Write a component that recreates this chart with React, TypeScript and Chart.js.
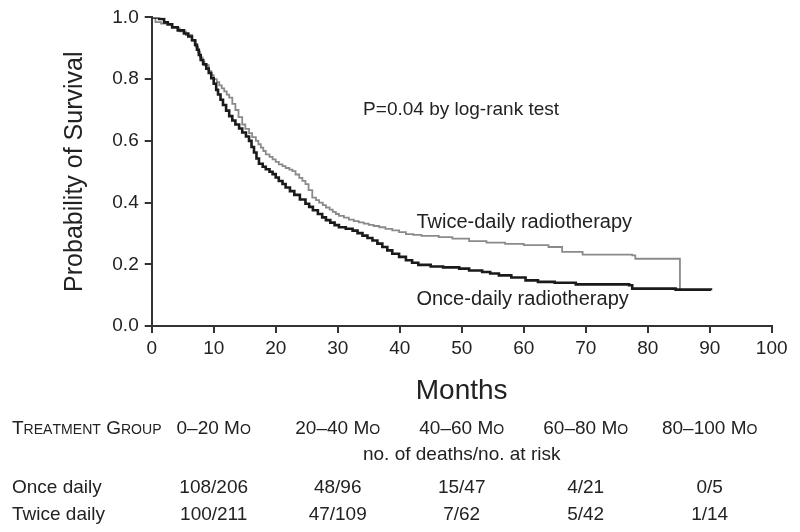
import React, { useEffect, useRef } from 'react';
import { Chart, registerables } from 'chart.js';

Chart.register(...registerables);

const FONT = "'Liberation Sans', Arial, Helvetica, sans-serif";
const TEXT = '#222222';

// ---- data ----
const xTickStep = 10;
const yTickStep = 0.2;

const onceMonths = [0, 1.2, 2, 2.6, 3.3, 4.2, 5.2, 5.9, 6.5, 7, 7.3, 7.6, 7.9, 8.3, 8.8, 9.2, 9.6, 10, 10.4, 10.7, 11.1, 11.5, 12, 12.5, 13, 13.5, 14.1, 14.6, 15.2, 15.7, 16.1, 16.5, 16.9, 17.3, 17.9, 18.4, 19, 19.5, 20, 20.5, 21.1, 21.6, 22.3, 23, 23.9, 24.8, 25.4, 26, 26.8, 27.5, 28.1, 28.8, 29.5, 30.2, 31.3, 32.4, 33.2, 34, 34.8, 35.6, 36.4, 37.2, 38, 38.8, 39.9, 41, 42, 43, 45, 47, 49.6, 51.2, 53.3, 54.6, 56, 58, 60.3, 62.3, 65, 68.4, 77, 77.5, 84.5, 90.2];
const onceSurvival = [1.0, 0.995, 0.984, 0.978, 0.968, 0.958, 0.948, 0.938, 0.926, 0.911, 0.895, 0.878, 0.862, 0.848, 0.834, 0.82, 0.803, 0.785, 0.765, 0.75, 0.733, 0.716, 0.698, 0.68, 0.666, 0.653, 0.64, 0.627, 0.614, 0.6, 0.58, 0.562, 0.543, 0.526, 0.516, 0.508, 0.5, 0.492, 0.481, 0.47, 0.46, 0.449, 0.437, 0.425, 0.41, 0.396, 0.386, 0.375, 0.363, 0.352, 0.343, 0.335, 0.327, 0.32, 0.315, 0.309, 0.301, 0.293, 0.285, 0.277, 0.267, 0.256, 0.245, 0.234, 0.224, 0.213, 0.205, 0.198, 0.193, 0.19, 0.186, 0.18, 0.175, 0.17, 0.164, 0.157, 0.148, 0.143, 0.14, 0.135, 0.132, 0.121, 0.118, 0.116];

const twiceMonths = [0, 0.6, 1.5, 2.5, 3.3, 4.5, 5.5, 6.5, 7.1, 7.5, 7.8, 8.2, 8.5, 9.2, 9.6, 10, 10.5, 10.9, 11.3, 11.7, 12.1, 12.5, 13, 13.5, 14, 14.6, 15.1, 15.7, 16.2, 16.8, 17.2, 17.6, 18, 18.4, 19, 19.5, 20, 20.5, 21.1, 21.6, 22.2, 22.7, 23.2, 23.8, 24.3, 24.8, 25.3, 25.9, 26.5, 27, 27.6, 28.1, 28.7, 29.2, 29.7, 30.2, 31, 31.8, 32.6, 33.4, 34.2, 35, 35.8, 36.7, 37.7, 38.8, 39.9, 41, 42.2, 43.5, 46.3, 48.5, 51.2, 54, 57, 60, 64, 66.2, 69.5, 77.5, 78, 85, 85.2, 90.2];
const twiceSurvival = [1.0, 0.985, 0.98, 0.975, 0.965, 0.955, 0.943, 0.925, 0.905, 0.888, 0.87, 0.857, 0.845, 0.826, 0.813, 0.8, 0.79, 0.78, 0.77, 0.76, 0.75, 0.74, 0.72, 0.7, 0.677, 0.653, 0.639, 0.625, 0.612, 0.6, 0.589, 0.578, 0.567, 0.556, 0.548, 0.54, 0.532, 0.524, 0.518, 0.512, 0.507, 0.502, 0.491, 0.48, 0.47, 0.46, 0.44, 0.416, 0.408, 0.4, 0.392, 0.384, 0.377, 0.37, 0.363, 0.357, 0.351, 0.345, 0.34, 0.336, 0.332, 0.328, 0.324, 0.32, 0.315, 0.31, 0.304, 0.298, 0.295, 0.292, 0.288, 0.283, 0.275, 0.27, 0.266, 0.262, 0.256, 0.24, 0.231, 0.229, 0.218, 0.218, 0.116, 0.116];

const seriesNames = ['Once-daily radiotherapy', 'Twice-daily radiotherapy'];
const pValueText = 'P=0.04 by log-rank test';

const tableHeader = 'Treatment Group';
const tableSubHeader = 'no. of deaths/no. at risk';
const groupNames = ['Once daily', 'Twice daily'];
const periodLabels = ['0\u201320 Mo', '20\u201340 Mo', '40\u201360 Mo', '60\u201380 Mo', '80\u2013100 Mo'];
const periodMidpoints = [10, 30, 50, 70, 90];
const onceDeathsAtRisk = ['108/206', '48/96', '15/47', '4/21', '0/5'];
const twiceDeathsAtRisk = ['100/211', '47/109', '7/62', '5/42', '1/14'];

function toPoints(xs: number[], ys: number[]) {
  return xs.map((x, i) => ({ x, y: ys[i] }));
}

function drawSmallCaps(ctx: CanvasRenderingContext2D, text: string, x: number, y: number, size: number, align: 'left' | 'center') {
  const small = size * 0.74;
  const parts = Array.from(text).map((ch) => {
    const lower = ch !== ch.toUpperCase();
    return { s: lower ? ch.toUpperCase() : ch, sz: lower ? small : size, w: 0 };
  });
  let total = 0;
  parts.forEach((p) => {
    ctx.font = `${p.sz}px ${FONT}`;
    p.w = ctx.measureText(p.s).width;
    total += p.w;
  });
  let cx = align === 'center' ? x - total / 2 : x;
  ctx.textAlign = 'left';
  ctx.textBaseline = 'alphabetic';
  parts.forEach((p) => {
    ctx.font = `${p.sz}px ${FONT}`;
    ctx.fillText(p.s, cx, y);
    cx += p.w;
  });
}

const overlayPlugin = {
  id: 'overlay',
  afterDraw(chart: any) {
    const { ctx } = chart;
    const x = chart.scales.x;
    const y = chart.scales.y;
    ctx.save();
    ctx.fillStyle = TEXT;

    // annotations
    ctx.font = `19px ${FONT}`;
    ctx.textAlign = 'left';
    ctx.textBaseline = 'middle';
    ctx.fillText(pValueText, x.getPixelForValue(34.1), y.getPixelForValue(0.7));

    ctx.font = `20px ${FONT}`;
    ctx.textBaseline = 'alphabetic';
    ctx.fillText(seriesNames[1], x.getPixelForValue(42.7), y.getPixelForValue(0.317));
    ctx.fillText(seriesNames[0], x.getPixelForValue(42.7), y.getPixelForValue(0.068));

    // at-risk table
    const base = y.bottom;
    const leftX = 12;
    const fs = 19;
    drawSmallCaps(ctx, tableHeader, leftX, base + 108, fs, 'left');
    periodLabels.forEach((lab, i) => {
      drawSmallCaps(ctx, lab, x.getPixelForValue(periodMidpoints[i]), base + 108, fs, 'center');
    });
    ctx.font = `${fs}px ${FONT}`;
    ctx.textAlign = 'center';
    ctx.textBaseline = 'alphabetic';
    ctx.fillText(tableSubHeader, x.getPixelForValue(50), base + 134);

    const rows = [onceDeathsAtRisk, twiceDeathsAtRisk];
    rows.forEach((row, r) => {
      const by = base + 167 + r * 27;
      ctx.textAlign = 'left';
      ctx.fillText(groupNames[r], leftX, by);
      ctx.textAlign = 'center';
      row.forEach((v, i) => ctx.fillText(v, x.getPixelForValue(periodMidpoints[i]), by));
    });
    ctx.restore();
  },
};

export default function App() {
  const ref = useRef<HTMLCanvasElement | null>(null);

  useEffect(() => {
    if (!ref.current) return;
    const chart = new Chart(ref.current, {
      type: 'line',
      data: {
        datasets: [
          {
            label: seriesNames[0],
            data: toPoints(onceMonths, onceSurvival),
            borderColor: '#1a1a1a',
            borderWidth: 2.6,
            pointRadius: 0,
            stepped: 'before',
            fill: false,
          },
          {
            label: seriesNames[1],
            data: toPoints(twiceMonths, twiceSurvival),
            borderColor: '#8a8a8a',
            borderWidth: 1.8,
            pointRadius: 0,
            stepped: 'before',
            fill: false,
          },
        ],
      },
      options: {
        responsive: false,
        animation: false,
        devicePixelRatio: 1,
        layout: { padding: { top: 17, right: 28.3, bottom: 0, left: 0 } },
        plugins: { legend: { display: false }, tooltip: { enabled: false } },
        scales: {
          x: {
            type: 'linear',
            min: 0,
            max: 100,
            ticks: { stepSize: xTickStep, color: TEXT, font: { size: 19, family: FONT }, padding: 4, maxRotation: 0 },
            grid: { drawOnChartArea: false, drawTicks: true, tickLength: 7, color: '#333', lineWidth: 2 },
            border: { display: true, color: '#333', width: 2 },
            title: { display: true, text: 'Months', color: TEXT, font: { size: 28, family: FONT }, padding: { top: 0, bottom: 124 } },
            afterFit: (scale: any) => { scale.height = 206; },
          },
          y: {
            type: 'linear',
            min: 0,
            max: 1,
            ticks: { stepSize: yTickStep, color: TEXT, font: { size: 19, family: FONT }, padding: 6, callback: (v: any) => Number(v).toFixed(1) },
            grid: { drawOnChartArea: false, drawTicks: true, tickLength: 7, color: '#333', lineWidth: 2 },
            border: { display: true, color: '#333', width: 2 },
            title: { display: true, text: 'Probability of Survival', color: TEXT, font: { size: 25, family: FONT }, padding: { top: 60, bottom: 0 } },
            afterFit: (scale: any) => { scale.width = 151.7; },
          },
        },
      },
      plugins: [overlayPlugin],
    });
    return () => chart.destroy();
  }, []);

  return (
    <div style={{ position: 'absolute', left: 0, top: 0, width: 800, height: 532, background: '#fff' }}>
      <canvas ref={ref} width={800} height={532} style={{ width: 800, height: 532, display: 'block' }} />
    </div>
  );
}
